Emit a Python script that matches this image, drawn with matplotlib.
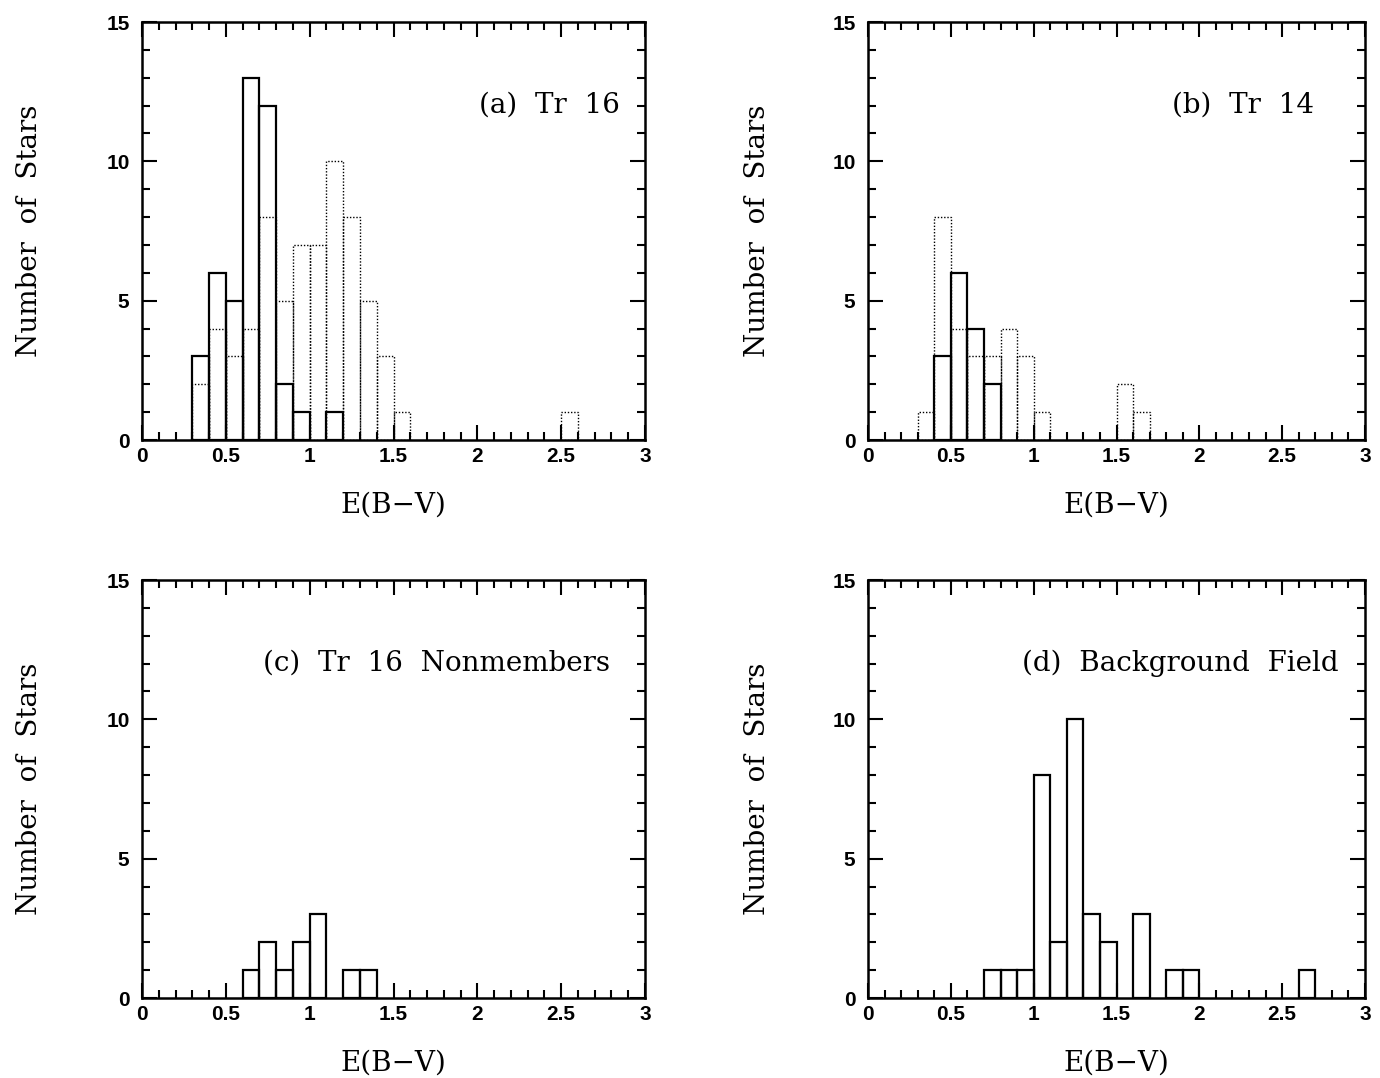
import numpy as np
import matplotlib
matplotlib.use('Agg')
import matplotlib.pyplot as plt
from matplotlib.ticker import MultipleLocator

# Гистограммы E(B-V): левые края бинов (шаг 0.1) и число звёзд
a_solid_x = [0.3, 0.4, 0.5, 0.6, 0.7, 0.8, 0.9, 1.1]
a_solid_n = [3, 6, 5, 13, 12, 2, 1, 1]
a_dot_x = [0.3, 0.4, 0.5, 0.6, 0.7, 0.8, 0.9, 1.0, 1.1, 1.2, 1.3, 1.4, 1.5, 2.5]
a_dot_n = [2, 4, 3, 4, 8, 5, 7, 7, 10, 8, 5, 3, 1, 1]

b_solid_x = [0.4, 0.5, 0.6, 0.7]
b_solid_n = [3, 6, 4, 2]
b_dot_x = [0.3, 0.4, 0.5, 0.6, 0.7, 0.8, 0.9, 1.0, 1.5, 1.6]
b_dot_n = [1, 8, 4, 3, 3, 4, 3, 1, 2, 1]

c_solid_x = [0.6, 0.7, 0.8, 0.9, 1.0, 1.2, 1.3]
c_solid_n = [1, 2, 1, 2, 3, 1, 1]

d_solid_x = [0.7, 0.8, 0.9, 1.0, 1.1, 1.2, 1.3, 1.4, 1.6, 1.8, 1.9, 2.6]
d_solid_n = [1, 1, 1, 8, 2, 10, 3, 2, 3, 1, 1, 1]

titles = ['(a)  Tr  16', '(b)  Tr  14', '(c)  Tr  16  Nonmembers', '(d)  Background  Field']
xticks = [0, 0.5, 1, 1.5, 2, 2.5, 3]
xticklabels = ['0', '0.5', '1', '1.5', '2', '2.5', '3']
yticks = [0, 5, 10, 15]

W, H = 1380, 1078
fig = plt.figure(figsize=(W / 100, H / 100), dpi=100)

# [left, bottom, width, height] в долях фигуры
boxes = [
    [142 / W, 1 - 440 / H, 503 / W, 418 / H],
    [868 / W, 1 - 440 / H, 497 / W, 418 / H],
    [142 / W, 1 - 998 / H, 503 / W, 418 / H],
    [868 / W, 1 - 998 / H, 497 / W, 418 / H],
]
series = [
    ((a_solid_x, a_solid_n), (a_dot_x, a_dot_n)),
    ((b_solid_x, b_solid_n), (b_dot_x, b_dot_n)),
    ((c_solid_x, c_solid_n), None),
    ((d_solid_x, d_solid_n), None),
]
text_x = [2.85, 2.69, 2.79, 2.84]

serif = 'DejaVu Serif'
fs = 20

for box, (solid, dotted), title, tx in zip(boxes, series, titles, text_x):
    ax = fig.add_axes(box)
    if dotted is not None:
        ax.bar(dotted[0], dotted[1], width=0.1, align='edge', fill=False,
               edgecolor='black', linewidth=1.0, linestyle=(0, (1, 1.3)))
    ax.bar(solid[0], solid[1], width=0.1, align='edge', fill=False,
           edgecolor='black', linewidth=1.6)

    ax.set_xlim(0, 3)
    ax.set_ylim(0, 15)
    ax.set_xticks(xticks)
    ax.set_xticklabels(xticklabels)
    ax.set_yticks(yticks)
    ax.xaxis.set_minor_locator(MultipleLocator(0.1))
    ax.yaxis.set_minor_locator(MultipleLocator(1))
    ax.tick_params(which='both', direction='in', top=True, right=True, width=1.5)
    ax.tick_params(which='major', length=11, pad=5)
    ax.tick_params(axis='y', which='major', pad=9)
    ax.tick_params(which='minor', length=5.5)
    for lab in ax.get_xticklabels() + ax.get_yticklabels():
        lab.set_fontfamily('Liberation Sans')
        lab.set_fontweight('bold')
        lab.set_fontsize(15)
    for sp in ax.spines.values():
        sp.set_linewidth(1.8)

    ax.set_xlabel('E(B\u2212V)', family=serif, fontsize=fs)
    ax.set_ylabel('Number  of  Stars', family=serif, fontsize=fs)
    ax.xaxis.set_label_coords(0.5, -0.155)
    ax.xaxis.label.set_va('center')
    ax.yaxis.set_label_coords(-112 / 503, 0.5)
    ax.yaxis.label.set_va('center')

    ax.text(tx, 12, title, family=serif, fontsize=fs, ha='right', va='center')

fig.savefig('out.png', dpi=100)
